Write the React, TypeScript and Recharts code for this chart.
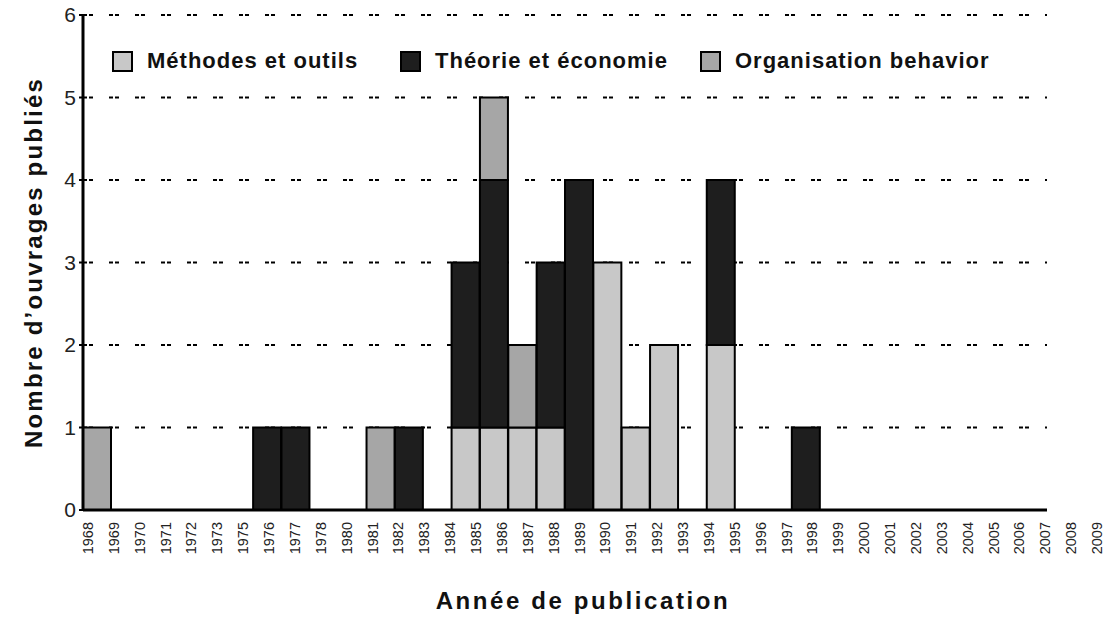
import { BarChart, Bar, XAxis, YAxis, CartesianGrid, Legend } from 'recharts'

// tick labels printed under the axis (they drift from the bar slots in the original)
const yearLabels = [
  '1968', '1969', '1970', '1971', '1972', '1973', '1975', '1976', '1977', '1978',
  '1980', '1981', '1982', '1983', '1984', '1985', '1986', '1987', '1988', '1989',
  '1990', '1991', '1992', '1993', '1994', '1995', '1996', '1997', '1998', '1999',
  '2000', '2001', '2002', '2003', '2004', '2005', '2006', '2007', '2008', '2009',
]

const seriesNames = ['Méthodes et outils', 'Théorie et économie', 'Organisation behavior']

// one value per bar slot (34 slots between the axis ticks)
const methodes = [0, 0, 0, 0, 0, 0, 0, 0, 0, 0, 0, 0, 0, 1, 1, 1, 1, 0, 3, 1, 2, 0, 2, 0, 0, 0, 0, 0, 0, 0, 0, 0, 0, 0]
const theorie = [0, 0, 0, 0, 0, 0, 1, 1, 0, 0, 0, 1, 0, 2, 3, 0, 2, 4, 0, 0, 0, 0, 2, 0, 0, 1, 0, 0, 0, 0, 0, 0, 0, 0]
const organisation = [1, 0, 0, 0, 0, 0, 0, 0, 0, 0, 1, 0, 0, 0, 1, 1, 0, 0, 0, 0, 0, 0, 0, 0, 0, 0, 0, 0, 0, 0, 0, 0, 0, 0]

const yTicks = [0, 1, 2, 3, 4, 5, 6]

const rows = methodes.map((m, i) => ({
  slot: i,
  methodes: m,
  theorie: theorie[i],
  organisation: organisation[i],
}))

const boundaryTicks = methodes.map((_, i) => i).concat(methodes.length)
const labelTicks = yearLabels.map((_, i) => i)

const legendSlotWidths = [288, 300, 300]

function YearTick(props: any) {
  const { x, y, payload } = props
  return (
    <text
      x={x}
      y={y}
      transform={`rotate(-90 ${x} ${y})`}
      textAnchor="end"
      dominantBaseline="central"
      fontSize={14.5}
      fill="#222"
    >
      {yearLabels[payload.value]}
    </text>
  )
}

function renderLegend(props: any) {
  const payload = [...(props.payload || [])].sort(
    (a: any, b: any) => seriesNames.indexOf(a.value) - seriesNames.indexOf(b.value)
  )
  return (
    <div style={{ display: 'flex', alignItems: 'center' }}>
      {payload.map((entry: any, i: number) => (
        <div key={entry.value} style={{ width: legendSlotWidths[i], display: 'flex', alignItems: 'center' }}>
          <span
            style={{
              display: 'inline-block',
              width: 17,
              height: 17,
              border: '2px solid #000',
              background: entry.color,
              marginRight: 14,
            }}
          />
          <span style={{ fontSize: 22, fontWeight: 'bold', letterSpacing: 1, color: '#111' }}>{entry.value}</span>
        </div>
      ))}
    </div>
  )
}

export default function App() {
  return (
    <div style={{ position: 'absolute', left: 0, top: 0, fontFamily: '"Liberation Sans", Arial, sans-serif' }}>
      <BarChart
        width={1105}
        height={617}
        data={rows}
        margin={{ top: 15, right: 58, bottom: 0, left: 0 }}
        barCategoryGap={0}
      >
        <CartesianGrid
          xAxisId="edges"
          vertical={false}
          stroke="#000"
          strokeWidth={2}
          strokeDasharray="4 2 4 16"
        />
        <XAxis xAxisId="bars" dataKey="slot" hide height={0} />
        <XAxis
          xAxisId="edges"
          dataKey="slot"
          type="number"
          domain={[0, methodes.length]}
          ticks={boundaryTicks}
          interval={0}
          allowDataOverflow
          tick={false}
          tickSize={5}
          height={8}
          axisLine={{ stroke: '#000', strokeWidth: 3 }}
          tickLine={{ stroke: '#000', strokeWidth: 2 }}
        />
        <XAxis
          xAxisId="years"
          dataKey="slot"
          type="number"
          domain={[0, yearLabels.length - 1]}
          ticks={labelTicks}
          interval={0}
          allowDataOverflow
          padding={{ left: 5, right: -50 }}
          tick={<YearTick />}
          axisLine={false}
          tickLine={false}
          tickSize={0}
          tickMargin={4}
          height={99}
          label={{
            value: 'Année de publication',
            position: 'insideBottom',
            offset: 8,
            dx: 18,
            style: { fontSize: 24, fontWeight: 'bold', fill: '#111', letterSpacing: 2.6 },
          }}
        />
        <YAxis
          domain={[0, 6]}
          ticks={yTicks}
          interval={0}
          width={83}
          tick={{ fontSize: 21, fill: '#222' }}
          tickSize={4}
          tickMargin={3}
          axisLine={{ stroke: '#000', strokeWidth: 3 }}
          tickLine={{ stroke: '#000', strokeWidth: 2 }}
          label={{
            value: 'Nombre d’ouvrages publiés',
            angle: -90,
            position: 'insideLeft',
            offset: 33,
            style: { textAnchor: 'middle', fontSize: 24, fontWeight: 'bold', fill: '#111', letterSpacing: 2.2 },
          }}
        />
        <Legend
          layout="horizontal"
          verticalAlign="middle"
          align="center"
          wrapperStyle={{ top: 48, left: 112, width: 900, height: 26 }}
          content={renderLegend}
        />
        <Bar xAxisId="bars" dataKey="methodes" name={seriesNames[0]} stackId="a" fill="#c8c8c8" stroke="#000" strokeWidth={2} isAnimationActive={false} />
        <Bar xAxisId="bars" dataKey="theorie" name={seriesNames[1]} stackId="a" fill="#1e1e1e" stroke="#000" strokeWidth={2} isAnimationActive={false} />
        <Bar xAxisId="bars" dataKey="organisation" name={seriesNames[2]} stackId="a" fill="#a6a6a6" stroke="#000" strokeWidth={2} isAnimationActive={false} />
      </BarChart>
    </div>
  )
}
